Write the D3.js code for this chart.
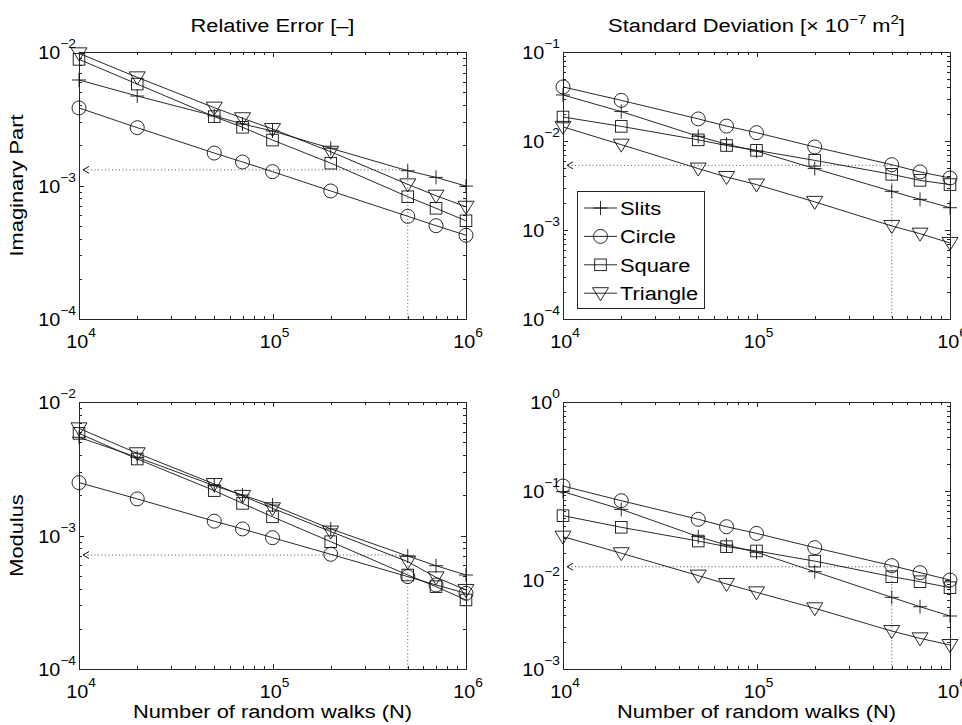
<!DOCTYPE html>
<html><head><meta charset="utf-8">
<script src="https://cdn.jsdelivr.net/npm/d3@7"></script>
<style>
body{margin:0;background:#fff}
text{font-family:"Liberation Sans",Arial,Helvetica,sans-serif;fill:#000}
</style>
</head><body>
<svg id="c" width="962" height="725"></svg>
<script>
// ---- data ----
const walks = [1e4, 2e4, 5e4, 7e4, 1e5, 2e5, 5e5, 7e5, 1e6];
const seriesNames = ["Slits", "Circle", "Square", "Triangle"];

// Imaginary part, relative error
const imagRelSlits    = [6.17e-3, 4.68e-3, 3.32e-3, 2.89e-3, 2.56e-3, 1.90e-3, 1.29e-3, 1.15e-3, 9.9e-4];
const imagRelCircle   = [3.81e-3, 2.71e-3, 1.75e-3, 1.50e-3, 1.27e-3, 9.1e-4, 5.88e-4, 5.0e-4, 4.24e-4];
const imagRelSquare   = [8.81e-3, 5.75e-3, 3.28e-3, 2.73e-3, 2.19e-3, 1.47e-3, 8.24e-4, 6.75e-4, 5.44e-4];
const imagRelTriangle = [9.77e-3, 6.46e-3, 3.83e-3, 3.19e-3, 2.65e-3, 1.79e-3, 1.02e-3, 8.39e-4, 6.93e-4];

// Imaginary part, standard deviation
const imagStdSlits    = [3.29e-2, 2.14e-2, 1.13e-2, 9.2e-3, 7.7e-3, 4.9e-3, 2.72e-3, 2.21e-3, 1.78e-3];
const imagStdCircle   = [4.05e-2, 2.86e-2, 1.77e-2, 1.47e-2, 1.24e-2, 8.57e-3, 5.42e-3, 4.49e-3, 3.84e-3];
const imagStdSquare   = [1.86e-2, 1.46e-2, 1.03e-2, 8.9e-3, 7.85e-3, 6.06e-3, 4.22e-3, 3.61e-3, 3.24e-3];
const imagStdTriangle = [1.44e-2, 9.1e-3, 4.9e-3, 3.94e-3, 3.24e-3, 2.07e-3, 1.11e-3, 9.1e-4, 7.15e-4];

// Modulus, relative error
const modRelSlits    = [5.44e-3, 3.85e-3, 2.36e-3, 2.01e-3, 1.69e-3, 1.12e-3, 7.02e-4, 5.94e-4, 5.06e-4];
const modRelCircle   = [2.49e-3, 1.88e-3, 1.28e-3, 1.12e-3, 9.63e-4, 7.23e-4, 4.92e-4, 4.26e-4, 3.69e-4];
const modRelSquare   = [5.82e-3, 3.74e-3, 2.17e-3, 1.74e-3, 1.38e-3, 8.99e-4, 5.06e-4, 4.14e-4, 3.29e-4];
const modRelTriangle = [6.35e-3, 4.13e-3, 2.43e-3, 1.98e-3, 1.60e-3, 1.07e-3, 6.37e-4, 4.86e-4, 3.91e-4];

// Modulus, standard deviation
const modStdSlits    = [9.83e-2, 6.22e-2, 3.07e-2, 2.47e-2, 2.05e-2, 1.24e-2, 6.38e-3, 5.01e-3, 3.94e-3];
const modStdCircle   = [1.138e-1, 7.78e-2, 4.81e-2, 3.97e-2, 3.34e-2, 2.31e-2, 1.45e-2, 1.21e-2, 1.0e-2];
const modStdSquare   = [5.28e-2, 3.91e-2, 2.74e-2, 2.37e-2, 2.12e-2, 1.63e-2, 1.09e-2, 9.57e-3, 8.2e-3];
const modStdTriangle = [3.07e-2, 2.0e-2, 1.12e-2, 9.02e-3, 7.27e-3, 4.81e-3, 2.67e-3, 2.21e-3, 1.86e-3];

// dotted guide lines (N, value) per panel
const guideN = 5e5;
const guideValues = [1.31e-3, 5.33e-3, 7.14e-4, 1.41e-2];

// axis ticks (exponents of 10)
const xTickExp = [4, 5, 6];
const yTickExpTL = [-2, -3, -4];
const yTickExpTR = [-1, -2, -3, -4];
const yTickExpBL = [-2, -3, -4];
const yTickExpBR = [0, -1, -2, -3];

const titles = ["Relative Error [\u2013]", "Standard Deviation"];
const rowLabels = ["Imaginary Part", "Modulus"];
const xLabel = "Number of random walks (N)";

// ---- drawing ----
const svg = d3.select("#c");
const panels = [
  {x0:79,  x1:466, y0:52,  y1:319, yExp:yTickExpTL, series:[imagRelSlits,imagRelCircle,imagRelSquare,imagRelTriangle], guide:guideValues[0]},
  {x0:563, x1:950, y0:52,  y1:319, yExp:yTickExpTR, series:[imagStdSlits,imagStdCircle,imagStdSquare,imagStdTriangle], guide:guideValues[1], legend:true},
  {x0:79,  x1:466, y0:402, y1:669, yExp:yTickExpBL, series:[modRelSlits,modRelCircle,modRelSquare,modRelTriangle], guide:guideValues[2], xlabel:true},
  {x0:563, x1:950, y0:402, y1:669, yExp:yTickExpBR, series:[modStdSlits,modStdCircle,modStdSquare,modStdTriangle], guide:guideValues[3], xlabel:true}
];

const axisColor = "#262626";
const lineColor = "#111";
const LBL = 19, LSX = 1.15;   // label font size & horizontal stretch
const TCK = 18, TSX = 1.1;    // tick font size & horizontal stretch

function txt(parent, x, y, size, anchor, sx, extra) {
  return parent.append("text")
    .attr("transform", `translate(${x},${y})${extra || ""} scale(${sx},1)`)
    .attr("font-size", size).attr("text-anchor", anchor);
}

function drawMarker(g, kind, x, y) {
  const s = g.append("g").attr("transform", `translate(${x},${y})`)
    .attr("fill", "none").attr("stroke", lineColor).attr("stroke-width", 0.9);
  if (kind === "Slits") s.append("path").attr("d", "M-7,0H7M0,-7V7");
  else if (kind === "Circle") s.append("circle").attr("r", 7);
  else if (kind === "Square") s.append("rect").attr("x", -5.8).attr("y", -5.8).attr("width", 11.6).attr("height", 11.6);
  else s.append("path").attr("d", "M-8,-5.5L8,-5.5L0,7.5Z");
}

function powLabel(sel, exp) {
  sel.append("tspan").text("10");
  sel.append("tspan").attr("dy", -11).attr("font-size", 12.5)
     .text(exp < 0 ? "\u2212" + (-exp) : String(exp));
}

panels.forEach((p) => {
  const g = svg.append("g");
  const x = d3.scaleLog().domain([1e4, 1e6]).range([p.x0, p.x1]);
  const yMax = Math.pow(10, d3.max(p.yExp)), yMin = Math.pow(10, d3.min(p.yExp));
  const y = d3.scaleLog().domain([yMin, yMax]).range([p.y1, p.y0]);

  // ticks (inside, all four sides)
  const xt = [];
  for (let e = 4; e < 6; e++) for (let m = 1; m < 10; m++) xt.push({v: m * Math.pow(10, e), major: m === 1});
  xt.push({v: 1e6, major: true});
  const yt = [];
  for (let e = d3.min(p.yExp); e < d3.max(p.yExp); e++) for (let m = 1; m < 10; m++) yt.push({v: m * Math.pow(10, e), major: m === 1});
  yt.push({v: yMax, major: true});
  const tk = g.append("g").attr("stroke", axisColor).attr("stroke-width", 1);
  xt.forEach(t => {
    const px = Math.round(x(t.v)) + 0.5, L = t.major ? 5 : 3;
    tk.append("line").attr("x1", px).attr("x2", px).attr("y1", p.y1).attr("y2", p.y1 - L);
    tk.append("line").attr("x1", px).attr("x2", px).attr("y1", p.y0).attr("y2", p.y0 + L);
  });
  yt.forEach(t => {
    const py = Math.round(y(t.v)) + 0.5, L = t.major ? 5 : 3;
    tk.append("line").attr("y1", py).attr("y2", py).attr("x1", p.x0).attr("x2", p.x0 + L);
    tk.append("line").attr("y1", py).attr("y2", py).attr("x1", p.x1).attr("x2", p.x1 - L);
  });

  // frame
  g.append("rect").attr("x", p.x0 + 0.5).attr("y", p.y0 + 0.5)
    .attr("width", p.x1 - p.x0).attr("height", p.y1 - p.y0)
    .attr("fill", "none").attr("stroke", axisColor).attr("stroke-width", 1);

  // tick labels
  xTickExp.forEach(e => {
    const t = txt(g, x(Math.pow(10, e)) + 2, p.y1 + 29, TCK, "middle", TSX);
    powLabel(t, e);
  });
  p.yExp.forEach(e => {
    const t = txt(g, p.x0 - 3, y(Math.pow(10, e)) + 7, TCK, "end", TSX);
    powLabel(t, e);
  });

  // dotted guides
  const gx = x(guideN), gy = y(p.guide);
  const dg = g.append("g").attr("stroke", "#555").attr("stroke-width", 1).attr("stroke-dasharray", "1,2.5").attr("fill", "none");
  dg.append("line").attr("x1", p.x0 + 5).attr("x2", gx).attr("y1", gy).attr("y2", gy);
  dg.append("line").attr("x1", gx).attr("x2", gx).attr("y1", gy).attr("y2", p.y1);
  g.append("path").attr("d", `M${p.x0 + 10},${gy - 3.5}L${p.x0 + 4},${gy}L${p.x0 + 10},${gy + 3.5}`)
    .attr("fill", "none").attr("stroke", "#111").attr("stroke-width", 1);

  // series
  const line = d3.line().x((d, i) => x(walks[i])).y(d => y(d));
  p.series.forEach((vals, si) => {
    g.append("path").datum(vals).attr("d", line).attr("fill", "none")
      .attr("stroke", lineColor).attr("stroke-width", 0.9);
    vals.forEach((v, i) => drawMarker(g, seriesNames[si], x(walks[i]), y(v)));
  });

  // legend
  if (p.legend) {
    const lg = g.append("g");
    lg.append("rect").attr("x", 577.5).attr("y", 191.5).attr("width", 127).attr("height", 117)
      .attr("fill", "#fff").attr("stroke", axisColor).attr("stroke-width", 1);
    seriesNames.forEach((n, i) => {
      const ry = 208 + i * 28.4;
      lg.append("line").attr("x1", 584).attr("x2", 617).attr("y1", ry).attr("y2", ry)
        .attr("stroke", lineColor).attr("stroke-width", 0.9);
      drawMarker(lg, n, 600.5, ry);
      txt(lg, 620, ry + 7, LBL, "start", LSX).text(n);
    });
  }

  // x label
  if (p.xlabel) {
    txt(svg, (p.x0 + p.x1) / 2, 718, LBL, "middle", LSX).text(xLabel);
  }
});

// titles
txt(svg, (79 + 466) / 2, 32, LBL, "middle", LSX).text(titles[0]);
const t2 = txt(svg, (563 + 950) / 2, 32, LBL, "middle", LSX);
t2.append("tspan").text(titles[1] + " [\u00d7 10");
t2.append("tspan").attr("dy", -8).attr("font-size", 13).text("\u22127");
t2.append("tspan").attr("dy", 8).text(" m");
t2.append("tspan").attr("dy", -8).attr("font-size", 13).text("2");
t2.append("tspan").attr("dy", 8).text("]");

// row labels
rowLabels.forEach((r, i) => {
  const cy = i === 0 ? (52 + 319) / 2 : (402 + 669) / 2;
  txt(svg, 23, cy, LBL, "middle", LSX, " rotate(-90)").text(r);
});
</script>
</body></html>
